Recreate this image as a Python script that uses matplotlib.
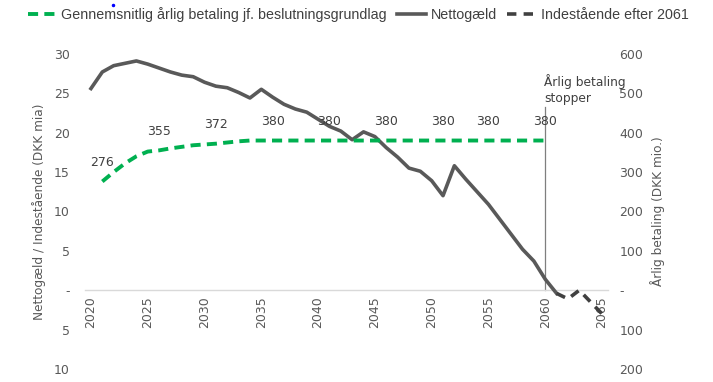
import matplotlib
matplotlib.use("Agg")
import matplotlib.pyplot as plt
from matplotlib.ticker import FuncFormatter
from matplotlib.lines import Line2D

# ---- data ----
netto_years = list(range(2020, 2062))
netto_vals = [25.6, 27.7, 28.5, 28.8, 29.1, 28.7, 28.2, 27.7, 27.3, 27.1,
              26.4, 25.9, 25.7, 25.1, 24.4, 25.5, 24.5, 23.6, 23.0, 22.6,
              21.7, 20.8, 20.2, 19.1, 20.1, 19.5, 18.1, 16.9, 15.5, 15.1,
              13.9, 12.0, 15.8, 14.1, 12.5, 10.9, 9.0, 7.1, 5.2, 3.7,
              1.4, -0.4]

inde_years = [2061, 2062, 2063, 2064, 2065]
inde_vals = [-0.4, -1.1, 0.0, -1.5, -3.0]

bet_years = list(range(2021, 2061))
bet_vals = [276, 300, 322, 340, 352, 355, 360, 364, 368, 370,
            372, 375, 378, 380, 380, 380, 380, 380, 380, 380,
            380, 380, 380, 380, 380, 380, 380, 380, 380, 380,
            380, 380, 380, 380, 380, 380, 380, 380, 380, 380]

label_years = [2021, 2026, 2031, 2036, 2041, 2046, 2051, 2055, 2060]

x_ticks = list(range(2020, 2066, 5))
left_ticks = [-10, -5, 0, 5, 10, 15, 20, 25, 30]
right_ticks = [-200, -100, 0, 100, 200, 300, 400, 500, 600]

stop_year = 2060
stop_top = 23.3

GREEN = "#00B050"
GRAY = "#595959"
DARK = "#404040"
TXT = "#595959"

plt.rcParams["font.family"] = ["DejaVu Sans"]

fig = plt.figure(figsize=(7.13, 3.82), dpi=100)
ax = fig.add_axes([0.1196, 0.034, 0.7327, 0.825])
ax2 = ax.twinx()

ax.set_xlim(2019.5, 2065.5)
ax.set_ylim(-10, 30)
ax2.set_ylim(-200, 600)

for a in (ax, ax2):
    for s in ("top", "left", "right"):
        a.spines[s].set_visible(False)
ax2.spines["bottom"].set_visible(False)
ax.spines["bottom"].set_position(("data", 0))
ax.spines["bottom"].set_color("#D9D9D9")
ax.spines["bottom"].set_linewidth(1.0)

fmt = FuncFormatter(lambda v, p: "-" if abs(v) < 1e-9 else f"{abs(v):.0f}")
ax.set_yticks(left_ticks)
ax.yaxis.set_major_formatter(fmt)
ax2.set_yticks(right_ticks)
ax2.yaxis.set_major_formatter(fmt)
ax.set_xticks(x_ticks)
ax.set_xticklabels([str(y) for y in x_ticks], rotation=90)

ax.tick_params(axis="x", length=0, pad=4, labelsize=9, labelcolor=TXT)
ax.tick_params(axis="y", length=0, pad=11, labelsize=9, labelcolor=TXT)
ax2.tick_params(axis="y", length=0, pad=8.5, labelsize=9, labelcolor=TXT)

ax.set_ylabel("Nettogæld / Indestående (DKK mia)", fontsize=8.7, color=TXT, labelpad=6)
ax2.set_ylabel("Årlig betaling (DKK mio.)", fontsize=8.7, color=TXT, labelpad=5)

# lines
ax.plot(netto_years, netto_vals, color=GRAY, lw=2.6, zorder=3)
ax.plot(inde_years, inde_vals, color=DARK, lw=2.6, dashes=(2.6, 2.0), zorder=3)
ax2.plot(bet_years, bet_vals, color=GREEN, lw=2.8, dashes=(2.6, 1.6), zorder=4)

# stop line
ax.plot([stop_year, stop_year], [0, stop_top], color="#7F7F7F", lw=0.9, zorder=2)
ax.text(stop_year - 0.1, 27.4, "Årlig betaling\nstopper", ha="left", va="top",
        fontsize=8.8, color=DARK, linespacing=1.25)

# data labels
bet_map = dict(zip(bet_years, bet_vals))
for y in label_years:
    v = bet_map[y]
    ax2.annotate(f"{v}", (y, v), xytext=(0, 13.5), textcoords="offset points",
                 ha="center", va="center", fontsize=9, color=DARK)

handles = [Line2D([], [], color=GREEN, lw=2.8, dashes=(2.6, 1.6)),
           Line2D([], [], color=GRAY, lw=2.6),
           Line2D([], [], color=DARK, lw=2.6, dashes=(2.6, 2.0))]
labels = ["Gennemsnitlig årlig betaling jf. beslutningsgrundlag", "Nettogæld",
          "Indestående efter 2061"]
leg = fig.legend(handles, labels, loc="center left", bbox_to_anchor=(0.039, 0.961),
                 ncol=3, frameon=False, handlelength=2.0,
                 prop={"family": ["Liberation Sans", "DejaVu Sans"], "size": 10.3},
                 handletextpad=0.35, columnspacing=0.7, borderpad=0, borderaxespad=0)
for t in leg.get_texts():
    t.set_color(DARK)

# stray blue dot present in the reference
fig.add_artist(Line2D([0.158], [0.987], marker="o", ms=1.5, color="blue",
                      transform=fig.transFigure, lw=0))

fig.savefig("out.png", dpi=100)
